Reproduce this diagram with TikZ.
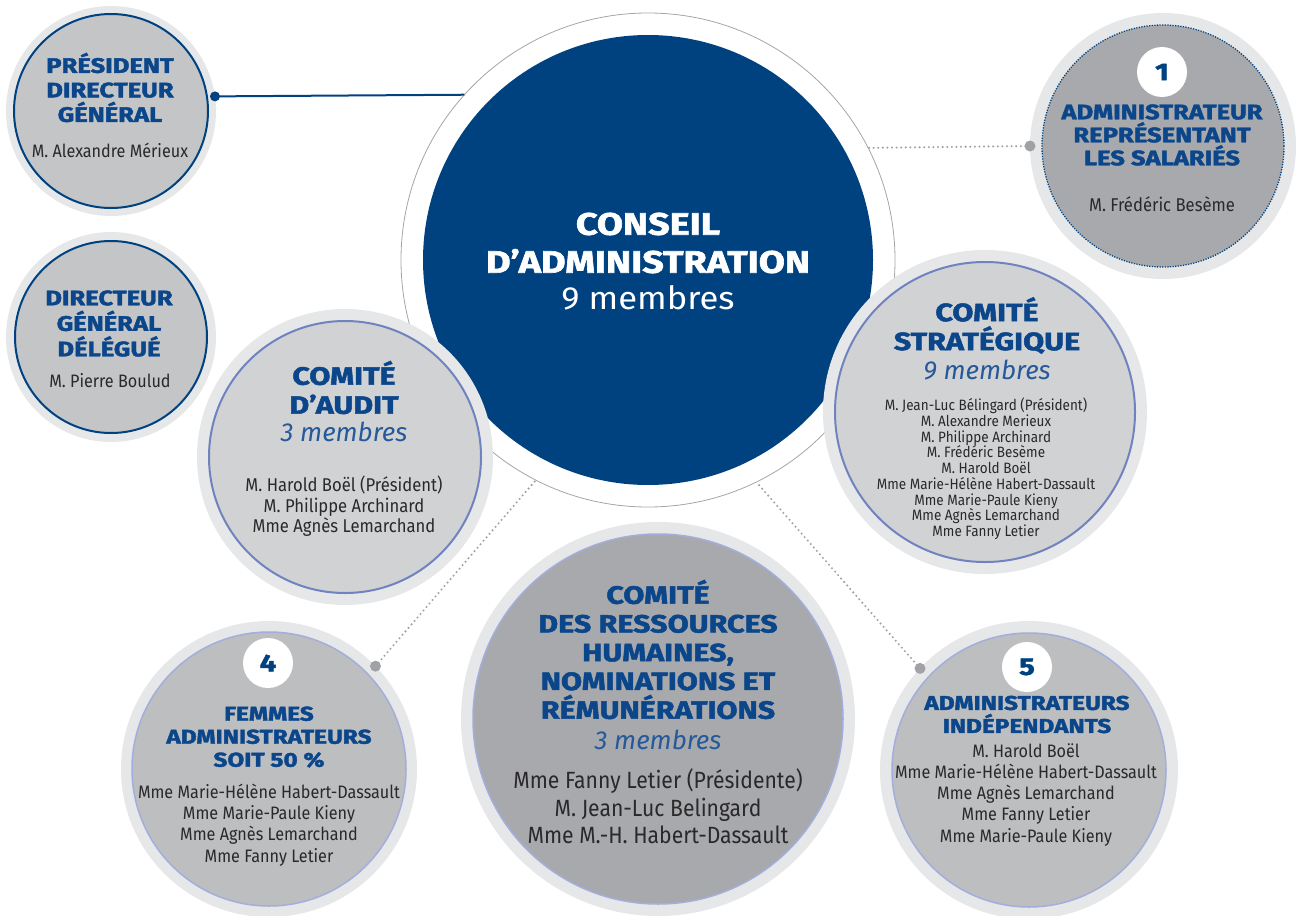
\documentclass[tikz,border=0pt]{standalone}
\usepackage{fontspec}
\setmainfont{Fira Sans}
\newfontfamily\headfont{Fira Sans}[FakeStretch=1.22, BoldFeatures={FakeBold=2}]
\newfontfamily\namefont{Fira Sans}[FakeStretch=0.9]
\newfontfamily\cafont{Fira Sans}[FakeStretch=1.08]
\definecolor{navy}{HTML}{00427F}
\definecolor{titleblue}{HTML}{0B468A}
\definecolor{countblue}{HTML}{25599A}
\definecolor{haloc}{HTML}{E6E7E8}
\definecolor{ringc}{HTML}{A4A5A7}
\definecolor{dotc}{HTML}{A0A2A5}
\definecolor{namec}{HTML}{2A2829}
\definecolor{greyA}{HTML}{C4C5C7}
\definecolor{greyB}{HTML}{D1D2D4}
\definecolor{greyC}{HTML}{BCBEC0}
\definecolor{greyD}{HTML}{A7A9AC}
\definecolor{lineB}{HTML}{7083BF}
\definecolor{lineC}{HTML}{A3AEDC}
\tikzset{
  halo/.style={preaction={draw=haloc, solid, line width=2*#1}, outer sep=#1},
  orgc/.style={circle, inner sep=0pt, minimum size=#1},
  badge/.style={circle, fill=white, inner sep=0pt, minimum size=50pt,
    text=navy, font=\headfont\bfseries\fontsize{24}{26}\selectfont},
  ttl/.style 2 args={text=titleblue, align=center, inner sep=0pt,
    font=\headfont\bfseries\fontsize{#1}{#2}\selectfont},
  cnt/.style={text=countblue, inner sep=0pt,
    font=\itshape\fontsize{#1}{#1}\selectfont},
  nms/.style 2 args={text=namec, align=center, inner sep=0pt,
    font=\namefont\fontsize{#1}{#2}\selectfont},
  link/.style={navy, line width=2pt},
  dotlink/.style={dotc, line width=2.3pt, line cap=round, dash pattern=on 0pt off 4.6pt},
}
\begin{document}
\begin{tikzpicture}[x=1pt, y=-1pt]
  \useasboundingbox (0,0) rectangle (1300,915);
  % --- conseil d'administration, the big one in the middle
  \node[orgc=494pt, draw=ringc, line width=0.8pt, outer sep=0pt] (ca-ring) at (648,260) {};
  \node[orgc=450pt, fill=navy] (ca) at (648,260) {};
  \node[text=white, align=center, inner sep=0pt,
        font=\headfont\bfseries\fontsize{31}{38}\selectfont] (ca-ttl) at (648,243)
       {CONSEIL\\D’ADMINISTRATION};
  \node[text=white, inner sep=0pt, font=\cafont\fontsize{32}{32}\selectfont] (ca-cnt) at (648,298) {9 membres};

  % --- direction
  \node[orgc=194pt, halo=8pt, fill=greyA, draw=navy, line width=2pt] (pdg) at (111,111) {};
  \node[ttl={21}{24.5}] (pdg-ttl) at (110,87.5) {PRÉSIDENT\\DIRECTEUR\\GÉNÉRAL};
  \node[nms={18}{21}] (pdg-nms) at (110,150) {M. Alexandre Mérieux};

  \node[orgc=192pt, halo=9pt, fill=greyA, draw=navy, line width=2pt] (dgd) at (111,337) {};
  \node[ttl={21}{25.5}] (dgd-ttl) at (109,323.5) {DIRECTEUR\\GÉNÉRAL\\DÉLÉGUÉ};
  \node[nms={18}{21}] (dgd-nms) at (110,381) {M. Pierre Boulud};

  % --- salarié
  \node[orgc=242pt, halo=12pt, fill=greyD, draw=navy, line width=1.3pt,
        dash pattern=on 1.2pt off 1.4pt] (sal) at (1163,146) {};
  \node[badge] (sal-num) at (1162,72) {1};
  \node[ttl={21}{23}] (sal-ttl) at (1162,135) {ADMINISTRATEUR\\REPRÉSENTANT\\LES SALARIÉS};
  \node[nms={18.5}{21}] (sal-nms) at (1162,204) {M. Frédéric Besème};

  % --- comités
  \node[orgc=272pt, halo=12pt, fill=greyB, draw=lineB, line width=2pt] (audit) at (345,457) {};
  \node[ttl={25}{29}] (audit-ttl) at (344,387.5) {COMITÉ\\D’AUDIT};
  \node[cnt=26] (audit-cnt) at (344,432) {3 membres};
  \node[nms={18.5}{20.5}] (audit-nms) at (344,506.5)
       {M. Harold Boël (Président)\\M. Philippe Archinard\\Mme Agnès Lemarchand};

  \node[orgc=300pt, halo=12pt, fill=greyB, draw=lineB, line width=2pt] (strat) at (985,412) {};
  \node[ttl={25}{29}] (strat-ttl) at (987,325.5) {COMITÉ\\STRATÉGIQUE};
  \node[cnt=26] (strat-cnt) at (987,370) {9 membres};
  \node[nms={15}{15.75}] (strat-nms) at (986,469)
       {M. Jean-Luc Bélingard (Président)\\M. Alexandre Merieux\\M. Philippe Archinard\\
        M. Frédéric Besème\\M. Harold Boël\\Mme Marie-Hélène Habert-Dassault\\
        Mme Marie-Paule Kieny\\Mme Agnès Lemarchand\\Mme Fanny Letier};

  \node[orgc=370pt, halo=12pt, fill=greyD, draw=lineC, line width=1.5pt] (rh) at (658,719) {};
  \node[ttl={25}{28.75}] (rh-ttl) at (658,649.5)
       {COMITÉ\\DES RESSOURCES\\HUMAINES,\\NOMINATIONS ET\\RÉMUNÉRATIONS};
  \node[cnt=26] (rh-cnt) at (658,740) {3 membres};
  \node[nms={23.5}{27.5}] (rh-nms) at (658,806.5)
       {Mme Fanny Letier (Présidente)\\M. Jean-Luc Belingard\\Mme M.-H. Habert-Dassault};

  % --- administrateurs
  \node[orgc=274pt, halo=11pt, fill=greyC, draw=lineC, line width=1.5pt] (fem) at (269,769) {};
  \node[badge] (fem-num) at (268,663) {4};
  \node[ttl={20}{23}] (fem-ttl) at (269,737) {FEMMES\\ADMINISTRATEURS\\SOIT 50 \%};
  \node[nms={18}{21.3}] (fem-nms) at (269,825)
       {Mme Marie-Hélène Habert-Dassault\\Mme Marie-Paule Kieny\\
        Mme Agnès Lemarchand\\Mme Fanny Letier};

  \node[orgc=274pt, halo=12pt, fill=greyC, draw=lineC, line width=1.5pt] (ind) at (1029,770) {};
  \node[badge] (ind-num) at (1027,667) {5};
  \node[ttl={20}{23}] (ind-ttl) at (1027,714.5) {ADMINISTRATEURS\\INDÉPENDANTS};
  \node[nms={18}{21.25}] (ind-nms) at (1026,794.5)
       {M. Harold Boël\\Mme Marie-Hélène Habert-Dassault\\Mme Agnès Lemarchand\\
        Mme Fanny Letier\\Mme Marie-Paule Kieny};

  % --- links to the conseil
  \draw[link] (pdg.8.2) -- (ca-ring.138.4);
  \fill[navy] (pdg.8.2) circle[radius=5pt];
  \draw[dotlink] (sal.west) -- (ca-ring.27.5);
  \fill[dotc] (sal.west) circle[radius=5.5pt];
  \draw[dotlink] (fem.44) -- (ca-ring.243.5);
  \fill[dotc] (fem.44) circle[radius=5.5pt];
  \draw[dotlink] (ind.137) -- (ca-ring.296.5);
  \fill[dotc] (ind.137) circle[radius=5.5pt];
\end{tikzpicture}
\end{document}
